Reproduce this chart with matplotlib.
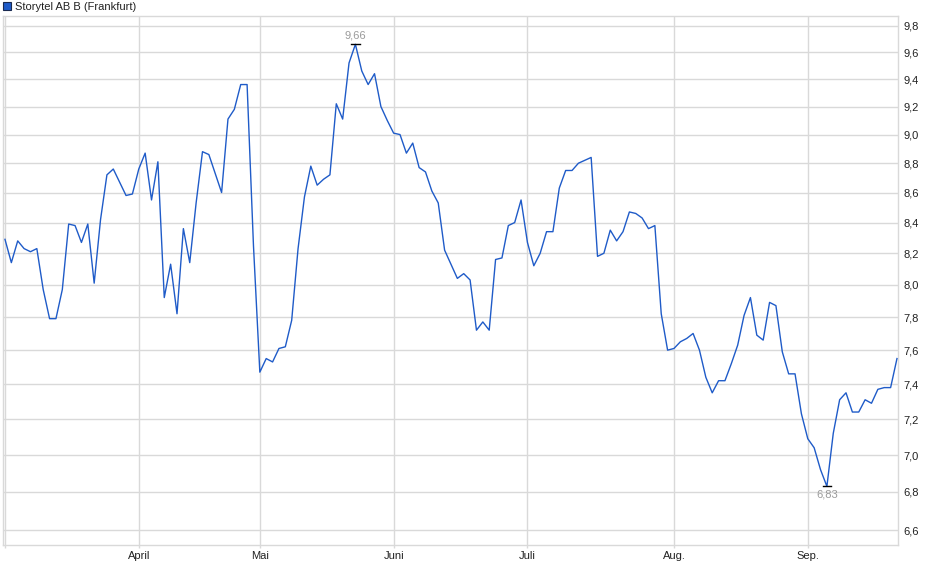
import matplotlib
matplotlib.use("Agg")
import matplotlib.pyplot as plt
from matplotlib.patches import Rectangle
from matplotlib.ticker import FixedLocator, NullLocator

plt.rcParams['font.family'] = ['Liberation Sans', 'DejaVu Sans']

title = "Storytel AB B (Frankfurt)"

# daily closing prices (trading days, March .. September)
prices = [
    8.29, 8.14, 8.28, 8.23, 8.21, 8.23, 7.97, 7.79, 7.79, 7.97,
    8.39, 8.38, 8.27, 8.39, 8.01, 8.42, 8.72, 8.76, 8.67, 8.58,
    8.59, 8.76, 8.87, 8.55, 8.81, 7.92, 8.13, 7.82, 8.36, 8.14,
    8.53, 8.88, 8.86, 8.73, 8.60, 9.11, 9.18, 9.36, 9.36, 8.25,
    7.47, 7.55, 7.53, 7.61, 7.62, 7.78, 8.23, 8.57, 8.78, 8.65,
    8.69, 8.72, 9.22, 9.11, 9.52, 9.66, 9.46, 9.36, 9.44, 9.20,
    9.10, 9.01, 9.00, 8.87, 8.94, 8.77, 8.74, 8.61, 8.53, 8.22,
    8.13, 8.04, 8.07, 8.03, 7.72, 7.77, 7.72, 8.16, 8.17, 8.38,
    8.40, 8.55, 8.27, 8.12, 8.20, 8.34, 8.34, 8.63, 8.75, 8.75,
    8.80, 8.82, 8.84, 8.18, 8.20, 8.35, 8.28, 8.34, 8.47, 8.46,
    8.43, 8.36, 8.38, 7.82, 7.60, 7.61, 7.65, 7.67, 7.70, 7.60,
    7.44, 7.35, 7.42, 7.42, 7.52, 7.63, 7.81, 7.92, 7.69, 7.66,
    7.89, 7.87, 7.59, 7.46, 7.46, 7.23, 7.09, 7.04, 6.92, 6.83,
    7.12, 7.31, 7.35, 7.24, 7.24, 7.31, 7.29, 7.37, 7.38, 7.38,
    7.55,
]

# first trading day of each month (index into prices)
month_idx = [0, 21, 40, 61, 82, 105, 126]
month_labels = ["", "April", "Mai", "Juni", "Juli", "Aug.", "Sep."]

y_ticks = [6.6, 6.8, 7.0, 7.2, 7.4, 7.6, 7.8, 8.0, 8.2, 8.4, 8.6, 8.8, 9.0, 9.2, 9.4, 9.6, 9.8]
y_labels = [f"{v:.1f}".replace(".", ",") for v in y_ticks]

W, H = 940, 579
fig = plt.figure(figsize=(W / 100, H / 100), dpi=100)
ax = fig.add_axes([3 / W, 1 - 545 / H, (898 - 3) / W, (545 - 16) / H])

line_color = "#1f5bc8"
grid_color = "#d9d9d9"
text_color = "#222222"
x = list(range(len(prices)))
ax.plot(x, prices, color=line_color, lw=1.0, zorder=3)

ax.set_yscale("log")
ax.set_ylim(6.523, 9.877)
ax.set_xlim(-0.31, len(prices) - 1 + 0.16)

ax.yaxis.set_major_locator(FixedLocator(y_ticks))
ax.yaxis.set_minor_locator(NullLocator())
ax.set_yticks(y_ticks)
ax.set_yticklabels(y_labels)
ax.yaxis.tick_right()
ax.tick_params(axis="y", which="both", length=0, pad=4, labelsize=8, labelcolor=text_color)

ax.set_xticks(month_idx)
ax.set_xticklabels(month_labels)
ax.tick_params(axis="x", length=2, width=1, color=grid_color, pad=2, labelsize=8, labelcolor=text_color)

ax.grid(True, color=grid_color, lw=1.0, zorder=0)
for s in ax.spines.values():
    s.set_color(grid_color)
    s.set_linewidth(1.0)

# high / low markers
hi = max(range(len(prices)), key=lambda i: prices[i])
lo = min(range(len(prices)), key=lambda i: prices[i])
for i, off, va in [(hi, 3, "bottom"), (lo, -2, "top")]:
    v = prices[i]
    ax.plot([i - 0.65, i + 0.65], [v, v], color="black", lw=1.0, zorder=4)
    ax.annotate(f"{v:.2f}".replace(".", ","), (i, v), xytext=(0, off),
                textcoords="offset points", ha="center", va=va,
                fontsize=8, color="#9a9a9a")

# legend
fig.patches.append(Rectangle((3 / W, 1 - 10 / H), 8 / W, 8 / H, transform=fig.transFigure,
                             facecolor=line_color, edgecolor="#1a2a50", lw=0.8))
fig.text(15 / W, 1 - 6.5 / H, title, ha="left", va="center", fontsize=8, color=text_color)

fig.savefig("out.png", dpi=100)
